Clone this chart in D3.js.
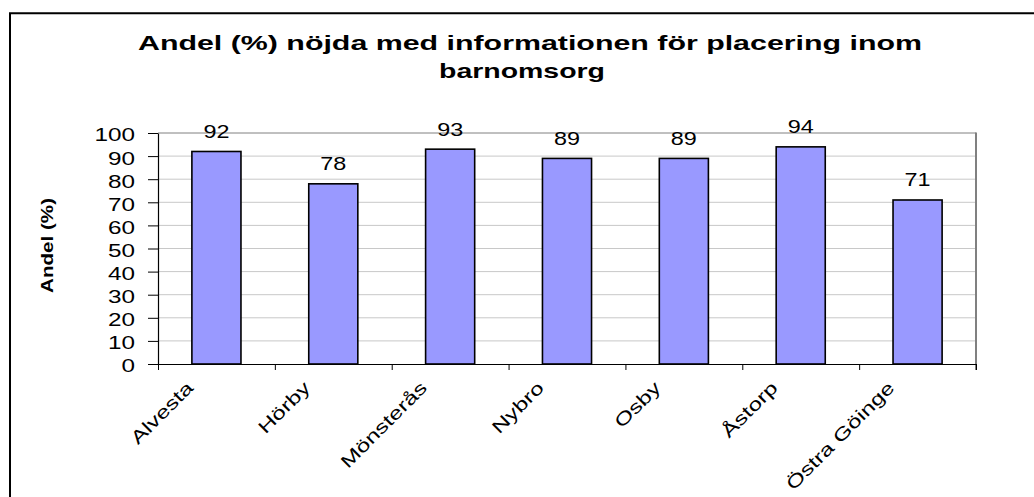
<!DOCTYPE html>
<html>
<head>
<meta charset="utf-8">
<script src="https://cdn.jsdelivr.net/npm/d3@7"></script>
<style>
  html, body { margin: 0; padding: 0; background: #fff; }
  svg { display: block; font-family: "Liberation Sans", Arial, sans-serif; }
</style>
</head>
<body>
<svg id="chart" width="1034" height="497"></svg>
<script>
const titleLines = ["Andel (%) nöjda med informationen för placering inom", "barnomsorg"];
const yAxisTitle = "Andel (%)";
const categories = ["Alvesta", "Hörby", "Mönsterås", "Nybro", "Osby", "Åstorp", "Östra Göinge"];
const values = [92, 78, 93, 89, 89, 94, 71];
const yTicks = [0, 10, 20, 30, 40, 50, 60, 70, 80, 90, 100];

(function () {
const svg = d3.select("#chart");
const W = 1034, H = 497;
const pLeft = 158, pRight = 976, pTop = 133, pBottom = 364;
const SX = 1.35; // horizontal stretch of glyphs in reference

// outer frame (left and top edges visible)
svg.append("path")
  .attr("d", `M10,${H} V13.3 H${W}`)
  .attr("fill", "none").attr("stroke", "#000").attr("stroke-width", 2);

// title
const titleWidths = [784, 166];
const titleX = [530, 522];
const titleY = [50, 78];
titleLines.forEach((t, i) => {
  svg.append("text")
    .attr("x", titleX[i]).attr("y", titleY[i])
    .attr("text-anchor", "middle")
    .attr("font-size", 21).attr("font-weight", "bold")
    .attr("textLength", titleWidths[i]).attr("lengthAdjust", "spacingAndGlyphs")
    .text(t);
});

const x = d3.scaleBand().domain(categories).range([pLeft, pRight])
  .paddingInner(0.58).paddingOuter(0.29);
const xb = d3.scaleLinear().domain([0, categories.length]).range([pLeft, pRight]);
const y = d3.scaleLinear().domain([0, 100]).range([pBottom, pTop]);

// gridlines
svg.append("g").selectAll("line").data(yTicks.filter(d => d > 0 && d < 100)).join("line")
  .attr("x1", pLeft).attr("x2", pRight)
  .attr("y1", d => y(d)).attr("y2", d => y(d))
  .attr("stroke", "#c8c8c8").attr("stroke-width", 1);

// plot area border top/right
svg.append("line").attr("x1", pLeft).attr("x2", pRight).attr("y1", y(100)).attr("y2", y(100))
  .attr("stroke", "#808080").attr("stroke-width", 1);
svg.append("line").attr("x1", pRight).attr("x2", pRight).attr("y1", y(100) - 0.5).attr("y2", pBottom + 6)
  .attr("stroke", "#808080").attr("stroke-width", 2);

// bars
svg.append("g").selectAll("rect").data(values).join("rect")
  .attr("x", (d, i) => x(categories[i]))
  .attr("width", x.bandwidth())
  .attr("y", d => y(d))
  .attr("height", d => pBottom - y(d))
  .attr("fill", "#9999ff").attr("stroke", "#000").attr("stroke-width", 1.6);

// value labels
svg.append("g").selectAll("text").data(values).join("text")
  .attr("transform", (d, i) => `translate(${x(categories[i]) + x.bandwidth() / 2},${y(d) - 13.5}) scale(1.3,1)`)
  .attr("text-anchor", "middle").attr("font-size", 18)
  .text(d => d);

// y axis
const yAxis = svg.append("g").attr("transform", `translate(${pLeft},0)`)
  .call(d3.axisLeft(y).tickValues(yTicks).tickSize(10).tickSizeOuter(0));
yAxis.select(".domain").attr("stroke", "#000").attr("stroke-width", 1.2);
yAxis.selectAll(".tick line").attr("stroke", "#000");
yAxis.selectAll(".tick text")
  .attr("x", 0).attr("dy", "0.36em")
  .attr("transform", `translate(-23,1.5) scale(${SX},1)`)
  .attr("font-size", 18).attr("font-family", "Liberation Sans, Arial, sans-serif").attr("fill", "#000");

// x axis (ticks at category boundaries)
const xAxis = svg.append("g").attr("transform", `translate(0,${pBottom})`)
  .call(d3.axisBottom(xb).tickValues(d3.range(categories.length + 1)).tickSize(6).tickSizeOuter(0).tickFormat(""));
xAxis.select(".domain").attr("stroke", "#000").attr("stroke-width", 1.2);
xAxis.selectAll(".tick line").attr("stroke", "#000");

// x labels
svg.append("g").selectAll("text").data(categories).join("text")
  .attr("transform", d => `translate(${x(d) + x.bandwidth() / 2 - 22},${pBottom + 25}) rotate(-45) scale(${SX},1)`)
  .attr("text-anchor", "end").attr("font-size", 18)
  .text(d => d);

// y axis title
svg.append("text")
  .attr("transform", "translate(53,245.5) rotate(-90)")
  .attr("text-anchor", "middle").attr("font-size", 17).attr("font-weight", "bold")
  .attr("textLength", 95).attr("lengthAdjust", "spacingAndGlyphs")
  .text(yAxisTitle);
})();
</script>
</body>
</html>
